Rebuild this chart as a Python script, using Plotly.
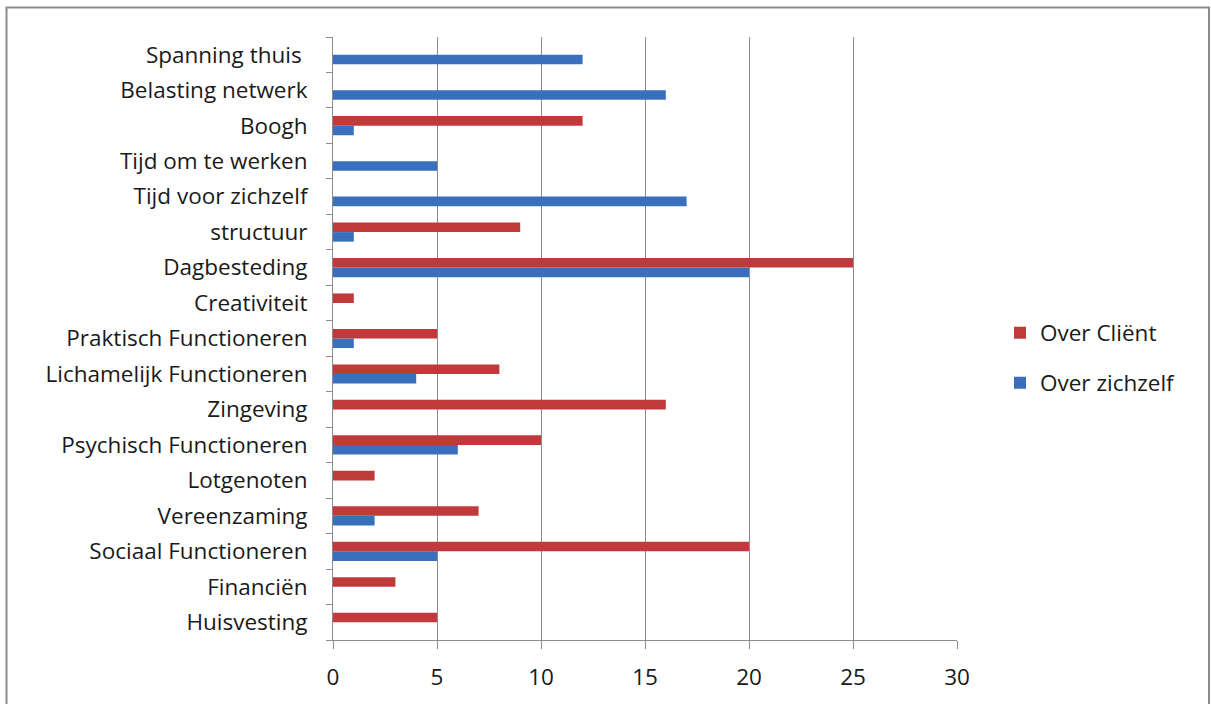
import plotly.graph_objects as go

categories = ["Huisvesting", "Financiën", "Sociaal Functioneren", "Vereenzaming", "Lotgenoten",
              "Psychisch Functioneren", "Zingeving", "Lichamelijk Functioneren", "Praktisch Functioneren",
              "Creativiteit", "Dagbesteding", "structuur", "Tijd voor zichzelf", "Tijd om te werken",
              "Boogh", "Belasting netwerk", "Spanning thuis "]
over_client = [5, 3, 20, 7, 2, 10, 16, 8, 5, 1, 25, 9, 0, 0, 12, 0, 0]
over_zichzelf = [0, 0, 5, 2, 0, 6, 0, 4, 1, 0, 20, 1, 17, 5, 1, 16, 12]
x_ticks = [0, 5, 10, 15, 20, 25, 30]

FONT = "Open Sans"
FS = 22.5
RED = "#C0393B"
BLUE = "#3A6FBE"
TXT = "#1a1a1a"

fig = go.Figure()
fig.add_trace(go.Bar(y=categories, x=over_zichzelf, orientation="h", name="Over zichzelf",
                     marker=dict(color=BLUE, line=dict(width=0)), legend="legend2"))
fig.add_trace(go.Bar(y=categories, x=over_client, orientation="h", name="Over Cliënt",
                     marker=dict(color=RED, line=dict(width=0)), legend="legend"))

W, H = 1211, 704
L, R, T, B = 333, 957, 37, 640
pw, ph = R - L, B - T

def px(x):
    return (x - L) / pw

def py(y):
    return (B - y) / ph

fig.update_layout(
    width=W, height=H,
    margin=dict(l=L, r=W - R, t=T, b=H - B),
    paper_bgcolor="white", plot_bgcolor="white",
    barmode="group", bargap=0.46, bargroupgap=0,
    font=dict(family=FONT, size=FS, color=TXT),
    xaxis=dict(range=[0, 30], tickvals=x_ticks, showgrid=True, gridcolor="#8c8c8c", gridwidth=1,
               showline=True, linecolor="#8c8c8c", linewidth=1, ticks="outside", ticklen=8,
               tickcolor="#8c8c8c", zeroline=False, ticklabelstandoff=9,
               tickfont=dict(family=FONT, size=FS, color=TXT)),
    yaxis=dict(type="category", showgrid=False, showline=True, linecolor="#8c8c8c", linewidth=1,
               ticks="outside", ticklen=6, tickcolor="#8c8c8c", tickson="boundaries",
               ticklabelstandoff=20, tickfont=dict(family=FONT, size=FS, color=TXT)),
    legend=dict(x=px(1000), y=py(333), xanchor="left", yanchor="middle", bgcolor="rgba(0,0,0,0)",
                font=dict(family=FONT, size=FS, color=TXT)),
    legend2=dict(x=px(1000), y=py(383), xanchor="left", yanchor="middle", bgcolor="rgba(0,0,0,0)",
                 font=dict(family=FONT, size=FS, color=TXT)),
    showlegend=True,
    shapes=[dict(type="rect", xref="paper", yref="paper",
                 x0=px(6.5), x1=px(1209), y0=py(715), y1=py(7.5),
                 line=dict(color="#8c8c8c", width=2), fillcolor="rgba(0,0,0,0)", layer="below")],
)

fig.write_html("out.html")
